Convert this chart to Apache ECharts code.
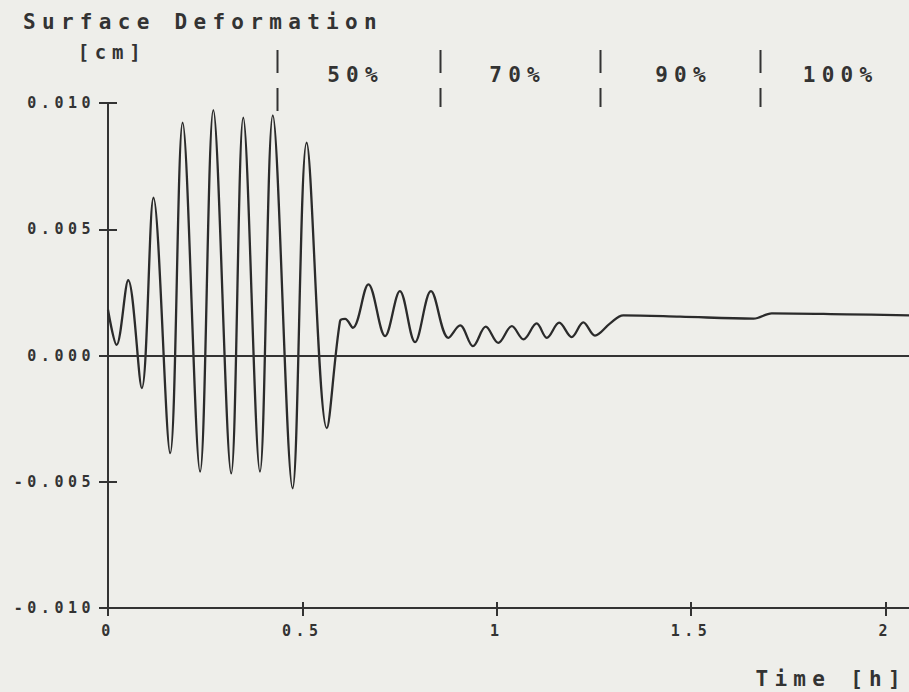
<!DOCTYPE html>
<html>
<head>
<meta charset="utf-8">
<title>Surface Deformation</title>
<script src="https://cdn.jsdelivr.net/npm/echarts@6/dist/echarts.min.js"></script>
<style>
  html, body { margin: 0; padding: 0; background: #eeeeea; }
  #main { width: 909px; height: 692px; }
  /* plotter-style wide lettering */
  #main svg text { letter-spacing: 0.3em; }
</style>
</head>
<body>
<div id="main"></div>
<script>
// Measured surface deformation over time (turning points of the record)
const timeH = [
  0.000, 0.022, 0.052, 0.087, 0.117, 0.160, 0.192, 0.237, 0.271, 0.317,
  0.348, 0.391, 0.424, 0.475, 0.511, 0.563, 0.597, 0.610, 0.630, 0.670,
  0.713, 0.751, 0.790, 0.831, 0.876, 0.906, 0.939, 0.972, 1.004, 1.039,
  1.069, 1.103, 1.129, 1.161, 1.193, 1.223, 1.253, 1.292, 1.326, 1.472,
  1.661, 1.708, 1.901, 2.061
];
const deformationCm = [
  0.00181, 0.00042, 0.00298, -0.00129, 0.00625, -0.00387, 0.00922, -0.00460, 0.00972, -0.00467,
  0.00942, -0.00460, 0.00951, -0.00526, 0.00843, -0.00288, 0.00136, 0.00145, 0.00110, 0.00282,
  0.00077, 0.00255, 0.00053, 0.00255, 0.00070, 0.00119, 0.00037, 0.00114, 0.00050, 0.00116,
  0.00064, 0.00127, 0.00070, 0.00130, 0.00073, 0.00131, 0.00079, 0.00127, 0.00159, 0.00154,
  0.00146, 0.00167, 0.00163, 0.00159
];

// Load stages: start time of each stage and where its label sits
const phaseStartH = [0.434, 0.854, 1.266, 1.678];
const phaseLabelH = [0.637, 1.054, 1.481, 1.885];
const phaseLabels = ['50%', '70%', '90%', '100%'];

// Axis ticks
const xTickValues = [0, 0.5, 1, 1.5, 2];
const xTickLabels = ['0', '0.5', '1', '1.5', '2'];
const yTickLabels = ['-0.010', '-0.005', '0.000', '0.005', '0.010'];
const X_MIN = 0, X_MAX = 2.061, X_STEP = 0.5;
const Y_MIN = -0.010, Y_MAX = 0.010, Y_STEP = 0.005;

const INK = '#333333';
const FONT = "'DejaVu Sans Mono', 'Liberation Mono', monospace";

const chart = echarts.init(document.getElementById('main'), null, { renderer: 'svg' });

function xLabel(v) {
  const k = xTickValues.findIndex(t => Math.abs(t - v) < 1e-9);
  return k >= 0 ? xTickLabels[k] : '';
}
function yLabel(v) {
  const k = Math.round((v - Y_MIN) / Y_STEP);
  return yTickLabels[k] !== undefined ? yTickLabels[k] : '';
}

const axisLineStyle = { color: INK, width: 2 };

chart.setOption({
  backgroundColor: '#eeeeea',
  animation: false,
  title: {
    text: 'Surface Deformation',
    left: 23, top: 11, padding: 0,
    textStyle: { fontFamily: FONT, fontSize: 21, fontWeight: 'bold', color: INK }
  },
  grid: { left: 108, right: 0, top: 103, bottom: 84, containLabel: false, outerBoundsMode: 'none' },
  xAxis: [{
    type: 'value', min: X_MIN, max: X_MAX, interval: X_STEP, position: 'bottom',
    name: 'Time [h]', nameLocation: 'end', nameGap: -2,
    nameTextStyle: { fontFamily: FONT, fontSize: 21, fontWeight: 'bold', color: INK,
                     align: 'right', verticalAlign: 'top', padding: [60, 0, 0, 0] },
    axisLine: { show: true, onZero: false, lineStyle: axisLineStyle },
    axisTick: { show: true, length: 8, customValues: xTickValues, lineStyle: { color: INK, width: 2 } },
    axisLabel: { formatter: xLabel, customValues: xTickValues, margin: 15, fontFamily: FONT,
                 fontSize: 15, fontWeight: 'bold', color: INK },
    splitLine: { show: false }
  }, {
    type: 'value', min: X_MIN, max: X_MAX, interval: X_STEP, position: 'bottom',
    axisLine: { show: false, onZero: false },
    axisTick: { show: true, inside: true, length: 6, customValues: xTickValues,
                lineStyle: { color: INK, width: 2 } },
    axisLabel: { show: false },
    splitLine: { show: false }
  }],
  yAxis: [{
    type: 'value', min: Y_MIN, max: Y_MAX, interval: Y_STEP, position: 'left',
    name: '[cm]', nameLocation: 'end', nameGap: 42,
    nameTextStyle: { fontFamily: FONT, fontSize: 19, fontWeight: 'bold', color: INK,
                     align: 'center', padding: [0, 0, 0, 8] },
    axisLine: { show: true, onZero: false, lineStyle: axisLineStyle },
    axisTick: { show: true, length: 9, lineStyle: { color: INK, width: 2 } },
    axisLabel: { formatter: yLabel, margin: 13, fontFamily: FONT, fontSize: 15,
                 fontWeight: 'bold', color: INK },
    splitLine: { show: false }
  }, {
    type: 'value', min: Y_MIN, max: Y_MAX, interval: Y_STEP, position: 'left',
    axisLine: { show: false, onZero: false },
    axisTick: { show: true, inside: true, length: 9, lineStyle: { color: INK, width: 2 } },
    axisLabel: { show: false },
    splitLine: { show: false }
  }],
  series: [{
    type: 'line',
    xAxisIndex: 0, yAxisIndex: 0,
    data: timeH.map((t, i) => [t, deformationCm[i]]),
    showSymbol: false,
    smooth: 0.35,
    lineStyle: { color: '#2b2b2b', width: 2.3 },
    silent: true,
    markLine: {
      silent: true,
      symbol: 'none',
      label: { show: false },
      lineStyle: { color: INK, width: 2, type: 'solid' },
      data: [{ yAxis: 0 }]
    }
  }]
});

// Stage separators and stage labels above the plot
const graphics = [];
phaseStartH.forEach((t, i) => {
  const x = Math.round(chart.convertToPixel({ xAxisIndex: 0 }, t)) + 0.5;
  graphics.push({ type: 'line', silent: true,
    shape: { x1: x, y1: 50, x2: x, y2: 73 }, style: { stroke: INK, lineWidth: 2 } });
  graphics.push({ type: 'line', silent: true,
    shape: { x1: x, y1: 88, x2: x, y2: i === 0 ? 111 : 107 }, style: { stroke: INK, lineWidth: 2 } });
});
phaseLabels.forEach((label, i) => {
  const x = chart.convertToPixel({ xAxisIndex: 0 }, phaseLabelH[i]);
  graphics.push({ type: 'text', silent: true, x: x, y: 75,
    style: { text: label, fontFamily: FONT, fontSize: 21, fontWeight: 'bold', fill: INK,
             align: 'center', verticalAlign: 'middle' } });
});
chart.setOption({ graphic: graphics });
</script>
</body>
</html>
